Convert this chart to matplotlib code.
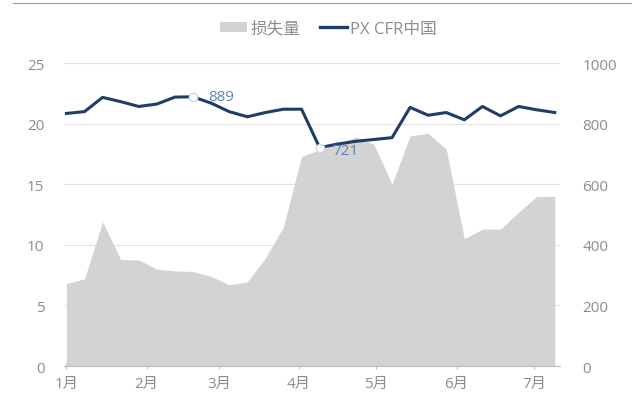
import matplotlib
matplotlib.use("Agg")
import matplotlib.pyplot as plt
import pandas as pd
from matplotlib.lines import Line2D
from matplotlib.patches import Patch

plt.rcParams['font.family'] = ['Open Sans', 'Noto Sans CJK SC', 'DejaVu Sans']

# weekly samples, Jan to early Jul
weeks = pd.date_range('2021-01-01', periods=28, freq='7D')

# 损失量 (left axis, area)
loss = [6.8, 7.2, 11.9, 8.8, 8.75, 8.0, 7.85, 7.8, 7.4, 6.7, 6.95, 8.9, 11.5, 17.3,
        17.85, 18.3, 18.9, 18.3, 15.0, 19.0, 19.2, 17.9, 10.5, 11.3, 11.3, 12.7, 14.0, 14.0]

# PX CFR中国 (right axis, line)
px_cfr = [834, 840, 887, 873, 857, 865, 888, 889, 868, 840, 823, 837, 848, 848,
          721, 733, 742, 748, 754, 854, 828, 837, 813, 857, 826, 857, 846, 837]

month_ticks = pd.date_range('2021-01-01', periods=7, freq='MS')
month_labels = ['1月', '2月', '3月', '4月', '5月', '6月', '7月']

grey_txt = '#8c8c8c'
line_col = '#1f3d6b'
area_col = '#d3d3d3'

fig = plt.figure(figsize=(6.32, 4.14), dpi=100)
ax = fig.add_axes([0.101, 0.1135, 0.785, 0.7315])
ax2 = ax.twinx()

ax.fill_between(weeks, loss, 0, color=area_col, linewidth=0, zorder=2)
ax.set_ylim(0, 25)
ax.set_yticks(range(0, 26, 5))
ax.grid(axis='y', color='#e3e3e3', linewidth=0.8, zorder=0)
ax.set_axisbelow(True)

ax2.plot(weeks, px_cfr, color=line_col, linewidth=2.2, zorder=3)
ax2.set_ylim(0, 1000)
ax2.set_yticks(range(0, 1001, 200))

# mark the highest and lowest price
for i, off in ((px_cfr.index(max(px_cfr)), (11, 0)), (px_cfr.index(min(px_cfr)), (9, -2))):
    ax2.plot(weeks[i], px_cfr[i], marker='o', markersize=6, markerfacecolor='white',
             markeredgecolor='#c9d7e8', markeredgewidth=1, zorder=4)
    ax2.annotate(str(px_cfr[i]), (weeks[i], px_cfr[i]), xytext=off,
                 textcoords='offset points', ha='left', va='center',
                 color='#5f83ad', fontsize=11, zorder=5)

ax.set_xlim(weeks[0] - pd.Timedelta(days=1), weeks[-1] + pd.Timedelta(days=2))
ax.set_xticks(month_ticks)
ax.set_xticklabels(month_labels)

for a in (ax, ax2):
    for s in a.spines.values():
        s.set_visible(False)
    a.tick_params(axis='y', length=0, labelsize=11, labelcolor=grey_txt, pad=14)
ax.spines['bottom'].set_visible(True)
ax.spines['bottom'].set_color('#bdbdbd')
ax.tick_params(axis='x', length=4, direction='inout', color='#bdbdbd',
               labelsize=11, labelcolor=grey_txt, pad=5)
ax2.tick_params(axis='y', pad=16)

handles = [Patch(facecolor=area_col, edgecolor='none', label='损失量'),
           Line2D([], [], color=line_col, linewidth=2.4, label='PX CFR中国')]
fig.legend(handles=handles, loc='center', bbox_to_anchor=(0.52, 0.928), ncol=2,
           frameon=False, fontsize=12, labelcolor=grey_txt, handlelength=1.6,
           handleheight=0.6, columnspacing=1.2, handletextpad=0.2)

# thin rule across the top
fig.add_artist(Line2D([0.02, 1.0], [0.99, 0.99], color='#9e9e9e', linewidth=0.8))

fig.savefig('out.png', dpi=100)
